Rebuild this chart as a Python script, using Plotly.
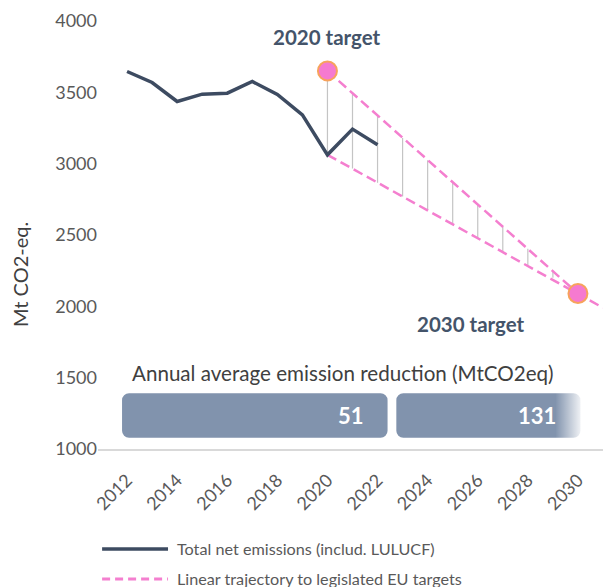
import plotly.graph_objects as go

# historical net emissions (MtCO2eq)
years = [2012, 2013, 2014, 2015, 2016, 2017, 2018, 2019, 2020, 2021, 2022]
emissions = [3646, 3569, 3436, 3487, 3494, 3576, 3485, 3342, 3062, 3242, 3132]

# legislated targets
target_years = [2020, 2030]
target_values = [3650, 2090]
target_labels = ["2020 target", "2030 target"]

# linear trajectories (from 2020 target and from 2020 actual)
upper_years = [2020, 2030]
upper_values = [3650, 2090]
lower_years = [2020, 2030, 2031]
lower_values = [3062, 2090, 1990]

# gap markers between the two trajectories
gap_years = [2020, 2021, 2022, 2023, 2024, 2025, 2026, 2027, 2028, 2029]
gap_top = [3650, 3494, 3338, 3180, 3024, 2870, 2712, 2558, 2404, 2250]
gap_bottom = [3062, 2966, 2866, 2770, 2674, 2578, 2478, 2384, 2288, 2200]

# annual average emission reduction per period
period_start = [2011.8, 2022.75]
period_end = [2022.4, 2030.1]
reductions = [51, 131]

legend_labels = ["Total net emissions (includ. LULUCF)",
                 "Linear trajectory to legislated EU targets"]

NAVY = "#3d4b61"
PINK = "#f47fcf"
SLATE = "#8193ad"
GREY_TXT = "#595959"
FONT = "Lato"
DASH = "10px,5px"

fig = go.Figure()

# vertical gap lines
gx, gy = [], []
for yr, top, bot in zip(gap_years, gap_top, gap_bottom):
    gx += [yr, yr, None]
    gy += [top, bot, None]
fig.add_trace(go.Scatter(x=gx, y=gy, mode="lines", line=dict(color="#c4c4c4", width=1.2),
                         hoverinfo="skip"))

# reduction bars
fig.add_trace(go.Bar(
    orientation="h",
    base=period_start,
    x=[e - s for s, e in zip(period_start, period_end)],
    y=[1235, 1235],
    width=313,
    marker=dict(color=SLATE, cornerradius=7, line=dict(width=0)),
    hoverinfo="skip",
))
# fade at the end of the second bar
fig.add_trace(go.Scatter(
    x=[2029.1, 2030.25, 2030.25, 2029.1, 2029.1],
    y=[1075, 1075, 1395, 1395, 1075],
    fill="toself", mode="none",
    fillgradient=dict(type="horizontal",
                      colorscale=[[0, "rgba(255,255,255,0)"], [1, "rgba(255,255,255,1)"]]),
    hoverinfo="skip",
))
for end, val in zip(period_end, reductions):
    fig.add_annotation(x=end, y=1235, text=f"<b>{val}</b>", showarrow=False,
                       xanchor="right", xshift=-22,
                       font=dict(family=FONT, size=22, color="white"))

fig.add_annotation(x=2012.1, y=1395, text="Annual average emission reduction (MtCO2eq)",
                   showarrow=False, xanchor="left", yanchor="bottom", yshift=6,
                   font=dict(family=FONT, size=20.6, color="#404040"))

# y title, placed like the original (below centre)
fig.add_annotation(xref="paper", x=-0.152, y=2220, text="Mt CO2-eq.", textangle=-90,
                   xanchor="center", yanchor="middle", showarrow=False,
                   font=dict(family=FONT, size=20, color="#404040"))

# trajectories
fig.add_trace(go.Scatter(x=upper_years, y=upper_values, mode="lines",
                         line=dict(color=PINK, width=2.5, dash=DASH), hoverinfo="skip"))
fig.add_trace(go.Scatter(x=lower_years, y=lower_values, mode="lines",
                         line=dict(color=PINK, width=2.5, dash=DASH), hoverinfo="skip"))

# emissions
fig.add_trace(go.Scatter(x=years, y=emissions, mode="lines",
                         line=dict(color=NAVY, width=3.5)))

# targets
fig.add_trace(go.Scatter(x=target_years, y=target_values, mode="markers",
                         marker=dict(size=19, color="#f57ad0", line=dict(color="#f7a35c", width=2))))
fig.add_annotation(x=target_years[0], y=target_values[0], text=f"<b>{target_labels[0]}</b>",
                   showarrow=False, yshift=34,
                   font=dict(family=FONT, size=20.5, color="#44546a"))
fig.add_annotation(x=2025.75, y=target_values[1], text=f"<b>{target_labels[1]}</b>",
                   showarrow=False, yshift=-31,
                   font=dict(family=FONT, size=20.5, color="#44546a"))

# legend drawn by hand (longer line samples than plotly's)
legend_rows = [-0.2336, -0.3037]
legend_lines = [dict(color=NAVY, width=3.5), dict(color=PINK, width=3, dash="8px,5px")]
for label, ly, ln in zip(legend_labels, legend_rows, legend_lines):
    fig.add_shape(type="line", xref="paper", yref="paper",
                  x0=0.008, x1=0.1365, y0=ly, y1=ly, line=ln)
    fig.add_annotation(xref="paper", yref="paper", x=0.15, y=ly, text=label,
                       xanchor="left", yanchor="middle", showarrow=False,
                       font=dict(family=FONT, size=16.2, color=GREY_TXT))

fig.update_layout(
    width=603, height=579,
    margin=dict(l=90, r=0, t=13, b=138, autoexpand=False),
    plot_bgcolor="white", paper_bgcolor="white",
    font=dict(family=FONT, color=GREY_TXT),
    showlegend=False,
    xaxis=dict(range=[2010.84, 2031.32], tickvals=list(range(2012, 2031, 2)),
               tickangle=-45, showgrid=False, zeroline=False, automargin=False,
               showline=True, linecolor="#d9d9d9", linewidth=1.5,
               ticklabelstandoff=12,
               tickfont=dict(size=18, color=GREY_TXT)),
    yaxis=dict(range=[1000, 4000], tickvals=list(range(1000, 4001, 500)),
               showgrid=False, zeroline=False, showline=False, automargin=False,
               tickfont=dict(size=18, color=GREY_TXT)),
)

fig.write_html("out.html")
